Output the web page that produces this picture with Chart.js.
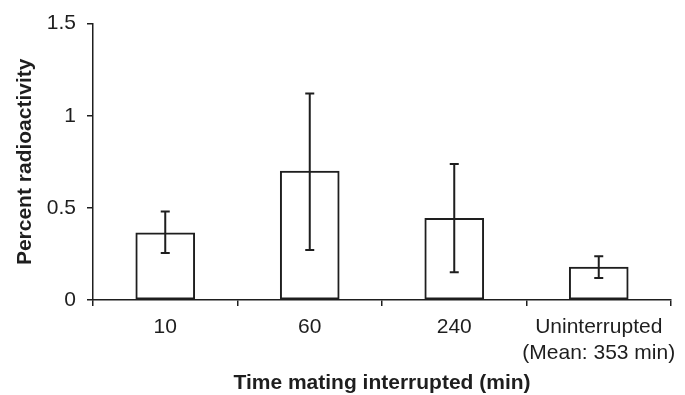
<!DOCTYPE html>
<html>
<head>
<meta charset="utf-8">
<script src="https://cdn.jsdelivr.net/npm/chart.js@4.4.0/dist/chart.umd.min.js"></script>
<style>
  html, body { margin: 0; padding: 0; background: #fff; }
  #wrap { width: 685px; height: 395px; }
</style>
</head>
<body>
<div id="wrap"><canvas id="radioChart" width="685" height="395"></canvas></div>
<script>
// values
const categories = ["10", "60", "240", ["Uninterrupted", "(Mean: 353 min)"]];
const meanValues = [0.365, 0.70, 0.443, 0.178];
const errorHigh = [0.48, 1.12, 0.738, 0.237];
const errorLow = [0.255, 0.272, 0.151, 0.119];
const yTickValues = [0, 0.5, 1, 1.5];
const yTickLabels = ["0", "0.5", "1", "1.5"];

const ink = "#1e1e1e";

// simple error bars drawn from the y scale
const errorBars = {
  id: "errorBars",
  afterDatasetsDraw(chart) {
    const ctx = chart.ctx;
    const meta = chart.getDatasetMeta(0);
    const y = chart.scales.y;
    ctx.save();
    ctx.strokeStyle = ink;
    ctx.lineWidth = 2;
    meta.data.forEach((bar, i) => {
      const top = y.getPixelForValue(errorHigh[i]);
      const bottom = y.getPixelForValue(errorLow[i]);
      ctx.beginPath();
      ctx.moveTo(bar.x, top);
      ctx.lineTo(bar.x, bottom);
      ctx.moveTo(bar.x - 4.5, top);
      ctx.lineTo(bar.x + 4.5, top);
      ctx.moveTo(bar.x - 4.5, bottom);
      ctx.lineTo(bar.x + 4.5, bottom);
      ctx.stroke();
    });
    ctx.restore();
  },
};

document.addEventListener("DOMContentLoaded", () => {
  const ctx = document.getElementById("radioChart").getContext("2d");

  new Chart(ctx, {
    type: "bar",
    data: {
      labels: categories,
      datasets: [
        {
          data: meanValues,
          backgroundColor: "#fff",
          borderColor: ink,
          borderWidth: 2,
          borderSkipped: false,
          barThickness: 59,
        },
      ],
    },
    options: {
      responsive: false,
      animation: false,
      layout: { padding: { top: 19, right: 14, left: 0, bottom: 0 } },
      plugins: {
        legend: { display: false },
        tooltip: { enabled: false },
      },
      scales: {
        x: {
          afterFit(scale) { scale.height = 95; },
          border: { color: ink, width: 1.5 },
          grid: {
            offset: true,
            drawOnChartArea: false,
            tickLength: 6,
            color: ink,
            lineWidth: 1.5,
          },
          ticks: {
            color: ink,
            padding: 8,
            autoSkip: false,
            maxRotation: 0,
            font: { family: "Liberation Sans", size: 21, lineHeight: 1.25 },
          },
          title: {
            display: true,
            text: "Time mating interrupted (min)",
            color: ink,
            padding: { top: 0, bottom: -1 },
            font: { family: "Liberation Sans", size: 21, weight: "bold" },
          },
        },
        y: {
          min: 0,
          max: 1.5,
          afterFit(scale) { scale.width = 93; },
          afterBuildTicks(scale) {
            scale.ticks = yTickValues.map((v) => ({ value: v }));
          },
          border: { color: ink, width: 1.5 },
          grid: {
            drawOnChartArea: false,
            tickLength: 6,
            color: ink,
            lineWidth: 1.5,
          },
          ticks: {
            color: ink,
            padding: 11,
            font: { family: "Liberation Sans", size: 21 },
            callback: (value) => yTickLabels[yTickValues.indexOf(value)],
          },
          title: {
            display: true,
            text: "Percent radioactivity",
            color: ink,
            padding: { top: 13, bottom: 0 },
            font: { family: "Liberation Sans", size: 21, weight: "bold" },
          },
        },
      },
    },
    plugins: [errorBars],
  });
});
</script>
</body>
</html>
